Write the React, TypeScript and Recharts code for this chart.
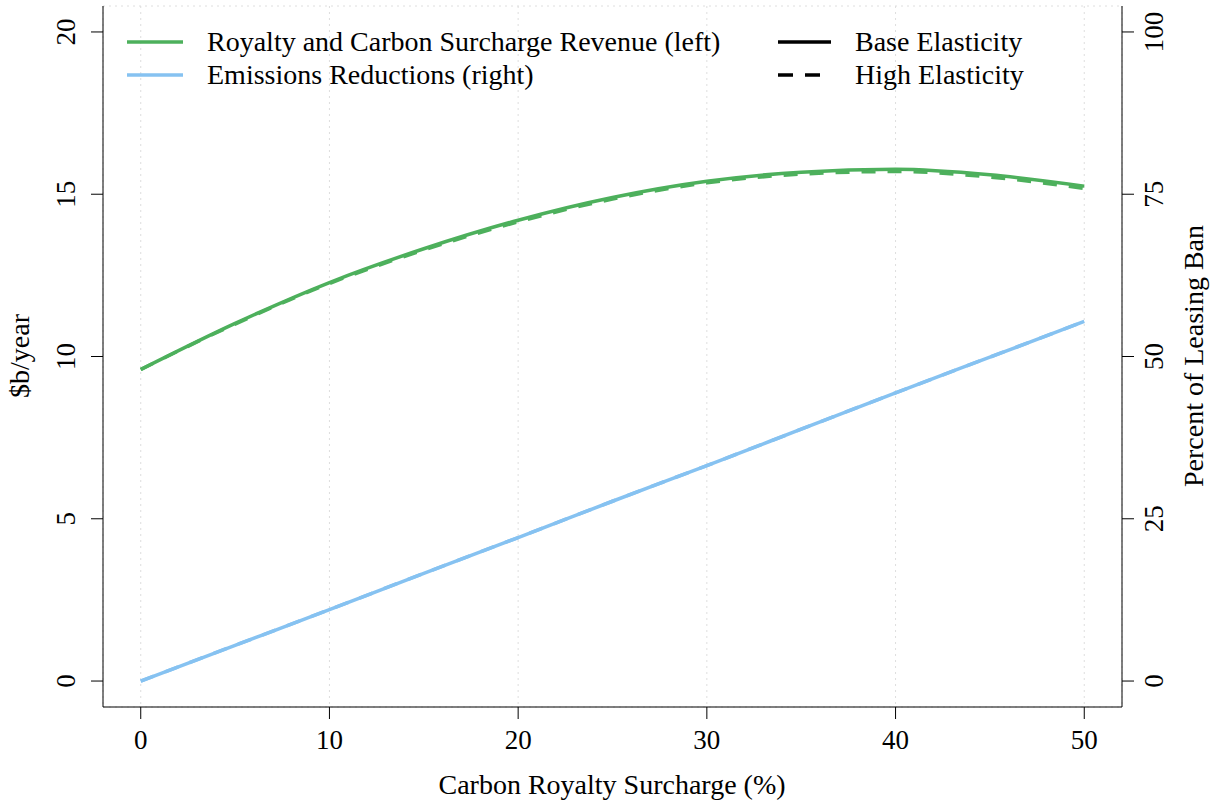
import React from "react";
import {
  ComposedChart,
  Line,
  XAxis,
  YAxis,
  CartesianGrid,
} from "recharts";

// carbon royalty surcharge (%)
const surcharge = [0, 5, 10, 15, 20, 25, 30, 35, 40, 45, 50];
// $b/year, left axis
const revenueBase = [9.6, 11.02, 12.28, 13.32, 14.2, 14.9, 15.4, 15.68, 15.77, 15.6, 15.25];
const revenueHigh = [9.6, 11.0, 12.25, 13.28, 14.15, 14.85, 15.35, 15.62, 15.7, 15.53, 15.18];
// percent of leasing ban, right axis
const emissionsBase = [0, 5.5, 11.0, 16.6, 22.1, 27.7, 33.2, 38.8, 44.4, 49.9, 55.4];
const emissionsHigh = [0, 5.5, 11.0, 16.6, 22.1, 27.7, 33.2, 38.8, 44.4, 49.9, 55.4];

const xTicks = [0, 10, 20, 30, 40, 50];
const leftTicks = [0, 5, 10, 15, 20];
const rightTicks = [0, 25, 50, 75, 100];

const GREEN = "#4DB05C";
const BLUE = "#86C2F1";
const FONT = "Liberation Serif, Times New Roman, serif";
const TICK_FS = 27;
const FS = 28;

const data = surcharge.map((x, i) => ({
  x,
  revBase: revenueBase[i],
  revHigh: revenueHigh[i],
  emBase: emissionsBase[i],
  emHigh: emissionsHigh[i],
}));

const txt: React.CSSProperties = { fontFamily: FONT };

const LeftTick = (props: any) => {
  const { y, payload } = props;
  return (
    <text
      x={75}
      y={y}
      transform={`rotate(-90, 75, ${y})`}
      textAnchor="middle"
      style={txt}
      fontSize={TICK_FS}
      fill="#000"
    >
      {payload.value}
    </text>
  );
};

const RightTick = (props: any) => {
  const { y, payload } = props;
  return (
    <text
      x={1163}
      y={y}
      transform={`rotate(-90, 1163, ${y})`}
      textAnchor="middle"
      style={txt}
      fontSize={TICK_FS}
      fill="#000"
    >
      {payload.value}
    </text>
  );
};

const BottomTick = (props: any) => {
  const { x, payload } = props;
  return (
    <text x={x} y={749} textAnchor="middle" style={txt} fontSize={TICK_FS} fill="#000">
      {payload.value}
    </text>
  );
};

const legendText: React.CSSProperties = {
  position: "absolute",
  fontFamily: FONT,
  fontSize: FS,
  lineHeight: "28px",
  color: "#000",
  whiteSpace: "nowrap",
};

export default function App() {
  return (
    <div style={{ position: "absolute", left: 0, top: 0, width: 1217, height: 802, background: "#fff" }}>
      <ComposedChart
        width={1217}
        height={802}
        data={data}
        margin={{ top: 6, right: 0, bottom: 0, left: 0 }}
      >
        <CartesianGrid stroke="#dedede" strokeDasharray="2 4" />
        <XAxis
          dataKey="x"
          type="number"
          domain={[-2, 52]}
          ticks={xTicks}
          height={95}
          tickSize={12}
          stroke="#000"
          tick={<BottomTick />}
        />
        <XAxis
          xAxisId="top"
          dataKey="x"
          type="number"
          domain={[-2, 52]}
          orientation="top"
          height={0}
          tick={false}
          tickLine={false}
          stroke="#000"
        />
        <YAxis
          yAxisId="left"
          type="number"
          domain={[-0.8, 20.8]}
          ticks={leftTicks}
          width={103}
          tickSize={12}
          stroke="#000"
          tick={<LeftTick />}
        />
        <YAxis
          yAxisId="right"
          orientation="right"
          type="number"
          domain={[-4, 104]}
          ticks={rightTicks}
          width={95}
          tickSize={12}
          stroke="#000"
          tick={<RightTick />}
        />
        <Line
          yAxisId="right"
          dataKey="emBase"
          type="monotone"
          stroke={BLUE}
          strokeWidth={3.5}
          dot={false}
          isAnimationActive={false}
        />
        <Line
          yAxisId="right"
          dataKey="emHigh"
          type="monotone"
          stroke={BLUE}
          strokeWidth={3.5}
          strokeDasharray="14 12"
          dot={false}
          isAnimationActive={false}
        />
        <Line
          yAxisId="left"
          dataKey="revBase"
          type="monotone"
          stroke={GREEN}
          strokeWidth={3.5}
          dot={false}
          isAnimationActive={false}
        />
        <Line
          yAxisId="left"
          dataKey="revHigh"
          type="monotone"
          stroke={GREEN}
          strokeWidth={3.5}
          strokeDasharray="14 12"
          dot={false}
          isAnimationActive={false}
        />
      </ComposedChart>

      {/* axis titles and legend */}
      <svg style={{ position: "absolute", left: 0, top: 0 }} width={1217} height={802}>
        <text x={612} y={794} textAnchor="middle" style={txt} fontSize={FS} fill="#000">
          Carbon Royalty Surcharge (%)
        </text>
        <text x={29} y={356} transform="rotate(-90, 29, 356)" textAnchor="middle" style={txt} fontSize={FS} fill="#000">
          $b/year
        </text>
        <text x={1203} y={356} transform="rotate(-90, 1203, 356)" textAnchor="middle" style={txt} fontSize={FS} fill="#000">
          Percent of Leasing Ban
        </text>
        <line x1={127} x2={183} y1={42} y2={42} stroke={GREEN} strokeWidth={3.5} />
        <line x1={127} x2={183} y1={75} y2={75} stroke={BLUE} strokeWidth={3.5} />
        <line x1={778} x2={831} y1={42} y2={42} stroke="#000" strokeWidth={3.5} />
        <line x1={778} x2={831} y1={75} y2={75} stroke="#000" strokeWidth={3.5} strokeDasharray="15 12" />
      </svg>
      <div style={{ ...legendText, left: 207, top: 28 }}>Royalty and Carbon Surcharge Revenue (left)</div>
      <div style={{ ...legendText, left: 207, top: 61 }}>Emissions Reductions (right)</div>
      <div style={{ ...legendText, left: 855, top: 28 }}>Base Elasticity</div>
      <div style={{ ...legendText, left: 855, top: 61 }}>High Elasticity</div>
    </div>
  );
}
